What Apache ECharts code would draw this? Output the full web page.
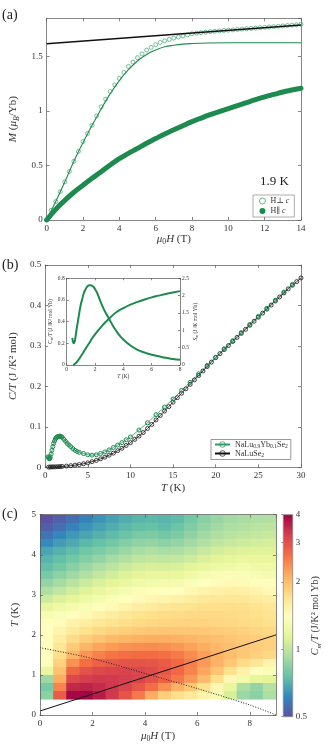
<!DOCTYPE html>
<html>
<head>
<meta charset="utf-8">
<script src="https://cdn.jsdelivr.net/npm/echarts@6/dist/echarts.min.js"></script>
<style>
html,body{margin:0;padding:0;background:#fff;}
#main{width:332px;height:744px;}
</style>
</head>
<body>
<div id="main"></div>
<script>
// ---------- (a) magnetisation at 1.9 K : [field (T), M (muB/Yb)] ----------
var perpPoints=[[0,0],[0.25,0.09],[0.5,0.17],[0.75,0.26],[1,0.35],[1.25,0.445],[1.5,0.54],[1.75,0.63],
    [2,0.72],[2.25,0.795],[2.5,0.87],[2.75,0.955],[3,1.04],[3.25,1.11],[3.5,1.18],[3.75,1.24],
    [4,1.30],[4.25,1.355],[4.5,1.41],[4.75,1.45],[5,1.49],[5.25,1.525],[5.5,1.56],[5.75,1.585],
    [6,1.61],[6.25,1.63],[6.5,1.645],[6.75,1.658],[7,1.67],[7.25,1.68],[7.5,1.69],[7.75,1.70],
    [8,1.71],[8.25,1.716],[8.5,1.72],[8.75,1.725],[9,1.73],[9.25,1.733],[9.5,1.736],[9.75,1.74],
    [10,1.743],[10.25,1.746],[10.5,1.75],[10.75,1.753],[11,1.756],[11.25,1.759],[11.5,1.762],[11.75,1.765],
    [12,1.769],[12.25,1.772],[12.5,1.775],[12.75,1.779],[13,1.782],[13.25,1.786],[13.5,1.789],[13.75,1.793],[14,1.797]];
var parPoints=[[0,0],[0.5,0.098],[1,0.18],[1.5,0.255],[2,0.32],[2.5,0.383],[3,0.443],[3.5,0.505],[4,0.563],
    [4.5,0.612],[5,0.658],[5.5,0.705],[6,0.748],[6.5,0.79],[7,0.828],[7.5,0.866],[8,0.903],[8.5,0.936],
    [9,0.967],[9.5,0.995],[10,1.022],[10.5,1.05],[11,1.078],[11.5,1.105],[12,1.13],[12.5,1.153],
    [13,1.175],[13.5,1.193],[14,1.21]];
var fitPoints=[[0,0],[0.5,0.17],[1,0.35],[1.5,0.54],[2,0.71],[2.5,0.87],[3,1.02],[3.5,1.16],[4,1.28],
    [4.5,1.38],[5,1.46],[5.5,1.52],[6,1.56],[6.5,1.59],[7,1.605],[7.5,1.615],[8,1.62],[9,1.625],
    [10,1.627],[14,1.628]];
var vanVleckLine=[[0,1.619],[14,1.79]];

// ---------- (b) specific heat : [T (K), C/T] ----------
var ybPoints=[[0.35,0.026],[0.4,0.024],[0.45,0.022],[0.5,0.021],[0.55,0.022],[0.6,0.025],[0.7,0.033],
    [0.8,0.042],[0.9,0.051],[1.0,0.059],[1.1,0.065],[1.2,0.07],[1.3,0.073],[1.4,0.075],[1.5,0.076],
    [1.6,0.0765],[1.7,0.077],[1.8,0.0765],[1.9,0.0755],[2.0,0.074],[2.2,0.069],[2.4,0.064],[2.6,0.059],
    [2.8,0.055],[3.0,0.051],[3.25,0.046],[3.5,0.042],[3.75,0.039],[4,0.037],[4.5,0.034],[5,0.031],
    [5.5,0.030],[6,0.031],[6.5,0.034],[7,0.038],[7.5,0.043],[8,0.049],[8.5,0.055],[9,0.061],[9.5,0.068],
    [10,0.075],[11,0.092],[12,0.11],[13,0.13],[14,0.149],[15,0.169],[16,0.19],[17,0.21],[18,0.231],
    [19,0.252],[20,0.272],[21,0.293],[22,0.313],[23,0.333],[24,0.353],[25,0.373],[26,0.393],[27,0.413],
    [28,0.433],[29,0.452]];
var luPoints=[[0.4,0.0005],[0.6,0.0007],[0.8,0.0009],[1,0.001],[1.25,0.0012],[1.5,0.0015],[1.75,0.0018],
    [2,0.0022],[2.5,0.003],[3,0.004],[3.5,0.0053],[4,0.0068],[4.5,0.0088],[5,0.011],[5.5,0.014],
    [6,0.017],[6.5,0.021],[7,0.025],[7.5,0.03],[8,0.035],[8.5,0.041],[9,0.047],[9.5,0.054],[10,0.061],
    [10.5,0.069],[11,0.077],[11.5,0.086],[12,0.096],[12.5,0.106],[13,0.117],[13.5,0.128],[14,0.139],
    [14.5,0.15],[15,0.161],[15.5,0.172],[16,0.183],[16.5,0.194],[17,0.205],[17.5,0.216],[18,0.227],
    [18.5,0.238],[19,0.249],[19.5,0.26],[20,0.271],[20.5,0.281],[21,0.291],[21.5,0.301],[22,0.311],
    [22.5,0.321],[23,0.331],[23.5,0.341],[24,0.351],[24.5,0.361],[25,0.371],[25.5,0.381],[26,0.391],
    [26.5,0.401],[27,0.411],[27.5,0.421],[28,0.431],[28.5,0.441],[29,0.45],[29.5,0.459],[30,0.468]];
// inset: magnetic part
var cmPoints=[[0.4,0.25],[0.45,0.21],[0.5,0.2],[0.55,0.21],[0.6,0.24],[0.7,0.33],[0.8,0.41],[0.9,0.49],
    [1.0,0.56],[1.1,0.61],[1.2,0.66],[1.3,0.69],[1.4,0.715],[1.5,0.73],[1.6,0.735],[1.7,0.735],[1.8,0.73],
    [1.9,0.72],[2.0,0.70],[2.2,0.65],[2.4,0.58],[2.6,0.52],[2.8,0.47],[3.0,0.425],[3.25,0.365],[3.5,0.315],
    [3.75,0.27],[4,0.235],[4.5,0.18],[5,0.14],[5.5,0.115],[6,0.095],[6.5,0.08],[7,0.066],[7.5,0.056],[8,0.048]];
var smPoints=[[0.45,0],[0.5,0.01],[0.6,0.04],[0.7,0.08],[0.8,0.13],[0.9,0.19],[1.0,0.25],[1.2,0.38],
    [1.4,0.51],[1.6,0.64],[1.8,0.77],[2.0,0.88],[2.25,1.01],[2.5,1.13],[2.75,1.24],[3.0,1.34],[3.5,1.52],
    [4,1.64],[4.5,1.74],[5,1.82],[5.5,1.89],[6,1.95],[6.5,2.0],[7,2.05],[7.5,2.09],[8,2.13]];

// ---------- (c) Cm/T map (J/K^2 mol Yb) ----------
var mapField=[0.25,0.75,1.25,1.75,2.25,2.75,3.25,3.75,4.25,4.75,5.25,5.75,6.25,6.75,7.25,7.75,8.25,8.75];
var mapTemp=[4.9,4.7,4.5,4.3,4.1,3.9,3.7,3.5,3.3,3.1,2.9,2.7,2.5,2.3,2.1,1.9,1.7,1.5,1.3,1.1,0.9,0.7,0.5];
var mapRows=[
    [0.50,0.53,0.56,0.60,0.64,0.67,0.70,0.72,0.73,0.72,0.74,0.79,0.84,0.88,0.91,0.93,0.95,0.96],
    [0.53,0.56,0.60,0.64,0.67,0.70,0.73,0.75,0.76,0.74,0.77,0.82,0.87,0.91,0.94,0.96,0.98,0.99],
    [0.57,0.61,0.65,0.68,0.71,0.74,0.77,0.80,0.81,0.79,0.81,0.86,0.91,0.95,0.98,1.00,1.02,1.03],
    [0.62,0.66,0.69,0.73,0.76,0.79,0.83,0.86,0.87,0.85,0.87,0.91,0.96,1.00,1.03,1.05,1.07,1.08],
    [0.68,0.71,0.74,0.78,0.81,0.85,0.89,0.93,0.95,0.93,0.94,0.98,1.03,1.07,1.10,1.12,1.13,1.13],
    [0.72,0.75,0.79,0.83,0.87,0.92,0.96,1.00,1.02,1.01,1.02,1.05,1.10,1.14,1.17,1.19,1.19,1.18],
    [0.75,0.79,0.84,0.89,0.94,0.99,1.04,1.08,1.10,1.09,1.10,1.14,1.19,1.23,1.26,1.27,1.26,1.24],
    [0.80,0.85,0.90,0.96,1.02,1.07,1.12,1.16,1.18,1.18,1.19,1.24,1.30,1.34,1.36,1.36,1.34,1.31],
    [0.87,0.92,0.98,1.04,1.10,1.15,1.20,1.25,1.27,1.27,1.29,1.35,1.41,1.45,1.47,1.46,1.43,1.39],
    [0.95,1.01,1.07,1.13,1.19,1.25,1.30,1.35,1.38,1.39,1.42,1.48,1.53,1.56,1.57,1.56,1.52,1.48],
    [1.05,1.11,1.17,1.23,1.29,1.35,1.41,1.46,1.50,1.52,1.55,1.60,1.64,1.66,1.66,1.65,1.61,1.57],
    [1.18,1.24,1.29,1.34,1.39,1.47,1.53,1.58,1.62,1.65,1.68,1.71,1.74,1.75,1.75,1.73,1.70,1.66],
    [1.32,1.36,1.40,1.47,1.54,1.60,1.66,1.71,1.74,1.76,1.78,1.79,1.79,1.79,1.78,1.76,1.73,1.70],
    [1.40,1.45,1.53,1.60,1.66,1.71,1.75,1.78,1.80,1.82,1.83,1.83,1.83,1.82,1.80,1.78,1.76,1.73],
    [1.40,1.52,1.63,1.72,1.79,1.84,1.88,1.91,1.93,1.94,1.94,1.93,1.92,1.90,1.88,1.85,1.82,1.79],
    [1.42,1.58,1.76,1.88,1.97,2.04,2.09,2.12,2.14,2.14,2.12,2.08,2.03,1.99,1.95,1.91,1.88,1.85],
    [1.42,1.66,1.90,2.07,2.20,2.28,2.34,2.37,2.38,2.36,2.31,2.23,2.14,2.06,1.99,1.93,1.89,1.85],
    [1.42,1.74,2.08,2.32,2.48,2.58,2.63,2.66,2.66,2.62,2.53,2.40,2.25,2.12,2.01,1.92,1.85,1.79],
    [1.38,1.85,2.35,2.64,2.80,2.88,2.93,2.95,2.92,2.84,2.70,2.50,2.29,2.10,1.93,1.78,1.67,1.52],
    [1.20,1.98,2.72,2.98,3.10,3.16,3.18,3.14,3.05,2.90,2.70,2.46,2.20,1.96,1.73,1.55,1.42,1.36],
    [0.90,2.15,3.10,3.25,3.30,3.30,3.25,3.15,2.97,2.78,2.55,2.30,2.02,1.75,1.48,1.27,1.17,1.14],
    [0.80,2.45,3.50,3.55,3.45,3.32,3.15,2.92,2.65,2.36,2.12,1.93,1.73,1.48,1.19,0.94,0.87,0.97],
    [0.85,2.85,3.90,3.92,3.65,3.30,2.95,2.55,2.15,1.88,1.74,1.64,1.54,1.34,1.09,0.89,0.85,0.94]
];
var boundaryPoints=[[0,1.68],[2,1.41],[4.25,0.99],[6,0.66],[8,0.25],[9,0]];
var crossoverLine=[[0,0.1],[9,2.0]];
var colorbarTicks=[0.5,1,2,3,4];

var GREEN='#1d8a4e';
var GREEN_LIGHT='#2f9a66';
var AXIS_COLOR='#555';
var TEXT_COLOR='#333';
var SERIF='"Liberation Serif","DejaVu Serif",serif';
var SPECTRAL=['#5e4fa2','#3288bd','#66c2a5','#abdda4','#e6f598','#ffffbf','#fee08b','#fdae61','#f46d43','#d53e4f','#9e0142'];

function richStyles(size){
    var lh=Math.round(size*1.25);
    return {
        n:{fontFamily:SERIF,fontSize:size,color:TEXT_COLOR,lineHeight:lh},
        i:{fontFamily:SERIF,fontSize:size,fontStyle:'italic',color:TEXT_COLOR,lineHeight:lh},
        s:{fontFamily:SERIF,fontSize:size*0.7,color:TEXT_COLOR,lineHeight:size*0.8,verticalAlign:'bottom'},
        si:{fontFamily:SERIF,fontSize:size*0.7,fontStyle:'italic',color:TEXT_COLOR,lineHeight:size*0.8,verticalAlign:'bottom'}
    };
}

function boxAxis(gridIndex,position,min,max,interval,opts){
    opts=opts||{};
    var size=opts.fontSize||9;
    var axis={
        type:'value',gridIndex:gridIndex,position:position,min:min,max:max,interval:interval,
        z:opts.z||0,
        axisLine:{show:true,onZero:false,lineStyle:{color:AXIS_COLOR,width:0.7}},
        axisTick:{show:true,inside:true,length:opts.tickLength||3,lineStyle:{color:AXIS_COLOR,width:0.7}},
        axisLabel:{show:!!opts.labels,color:TEXT_COLOR,fontFamily:SERIF,fontSize:size,
            margin:opts.margin||4,showMaxLabel:opts.showMax!==false},
        splitLine:{show:false}
    };
    if(opts.name){
        axis.name=opts.name;
        axis.nameLocation='middle';
        axis.nameGap=opts.nameGap;
        axis.nameRotate=opts.nameRotate;
        axis.nameTextStyle={fontFamily:SERIF,fontSize:opts.nameSize||11,color:TEXT_COLOR,rich:richStyles(opts.nameSize||11)};
    }
    return axis;
}

function renderCell(params,api){
    var halfField=(mapField[1]-mapField[0])/2;
    var halfTemp=(mapTemp[0]-mapTemp[1])/2;
    var h=api.value(0),t=api.value(1);
    var p0=api.coord([h-halfField,t+halfTemp]);
    var p1=api.coord([h+halfField,t-halfTemp]);
    return {
        type:'rect',
        shape:{x:p0[0],y:p0[1],width:p1[0]-p0[0]+0.6,height:p1[1]-p0[1]+0.6},
        style:{fill:api.visual('color')}
    };
}

function renderColorbar(params,api){
    var p0=api.coord([0,api.value(2)]);
    var p1=api.coord([1,api.value(1)]);
    var stops=[];
    for(var i=0;i<SPECTRAL.length;i++){
        stops.push({offset:i/(SPECTRAL.length-1),color:SPECTRAL[i]});
    }
    return {
        type:'rect',
        shape:{x:p0[0],y:p0[1],width:p1[0]-p0[0],height:p1[1]-p0[1]},
        style:{fill:new echarts.graphic.LinearGradient(0,1,0,0,stops),stroke:'#888',lineWidth:0.8}
    };
}

var mapData=[];
for(var r=0;r<mapTemp.length;r++){
    for(var c=0;c<mapField.length;c++){
        var v=mapRows[r][c];
        mapData.push([mapField[c],mapTemp[r],v,Math.log2(v)]);
    }
}

var legendNames={
    'H⊥ c':'{n|H⊥ }{i|c}',
    'H∥ c':'{n|H∥ }{i|c}',
    'NaLu0.9Yb0.1Se2':'{n|NaLu}{s|0.9}{n|Yb}{s|0.1}{n|Se}{s|2}',
    'NaLuSe2':'{n|NaLuSe}{s|2}'
};
function legendLabel(name){ return legendNames[name]||name; }

var myChart=echarts.init(document.getElementById('main'),null,{renderer:'canvas'});
var option={
    animation:false,
    backgroundColor:'#fff',
    grid:[
        {left:42.7,top:18.3,width:258.3,height:201.7},
        {left:42.7,top:265,width:258.3,height:202.3},
        {left:66.7,top:278.3,width:113.3,height:86.7,show:true,backgroundColor:'#fff',borderWidth:0},
        {left:40,top:514.7,width:236,height:202},
        {left:283.3,top:514.7,width:9.4,height:202}
    ],
    xAxis:[
        boxAxis(0,'bottom',0,14,2,{labels:true,name:'{i|μ}{s|0}{i|H}{n| (T)}',nameGap:12}),
        boxAxis(0,'top',0,14,2,{}),
        boxAxis(1,'bottom',0,30,5,{labels:true,name:'{i|T}{n| (K)}',nameGap:14}),
        boxAxis(1,'top',0,30,5,{}),
        boxAxis(2,'bottom',0,8,2,{labels:true,fontSize:5.5,margin:2,tickLength:2,name:'{i|T}{n| (K)}',nameGap:7,nameSize:5.5}),
        boxAxis(2,'top',0,8,2,{tickLength:2}),
        boxAxis(3,'bottom',0,9,2,{labels:true,showMax:false,z:5,name:'{i|μ}{s|0}{i|H}{n| (T)}',nameGap:14}),
        boxAxis(3,'top',0,9,2,{z:5}),
        {type:'value',gridIndex:4,min:0,max:1,show:false}
    ],
    yAxis:[
        boxAxis(0,'left',0,1.852,0.5,{labels:true,showMax:false,name:'{i|M}{n| (}{i|μ}{si|B}{n|/Yb)}',nameGap:22}),
        boxAxis(0,'right',0,1.852,0.5,{}),
        boxAxis(1,'left',0,0.5,0.1,{labels:true,name:'{i|C/T}{n| (J /K² mol)}',nameGap:21}),
        boxAxis(1,'right',0,0.5,0.1,{}),
        boxAxis(2,'left',0,0.8,0.2,{labels:true,fontSize:5.5,margin:2,tickLength:2,name:'{i|C}{si|m}{i|/T}{n| (J /K² mol Yb)}',nameGap:8,nameSize:5.5}),
        boxAxis(2,'right',0,2.5,0.5,{labels:true,fontSize:5.5,margin:2,tickLength:2,name:'{i|S}{si|m}{n| (J /K mol Yb)}',nameGap:9,nameSize:5.5,nameRotate:90}),
        boxAxis(3,'left',0,5,1,{labels:true,z:5,name:'{i|T}{n| (K)}',nameGap:9}),
        boxAxis(3,'right',0,5,1,{z:5}),
        {
            type:'value',gridIndex:4,position:'right',min:-1,max:2,
            axisLine:{show:false},splitLine:{show:false},
            axisTick:{show:true,inside:true,length:2,lineStyle:{color:'#666',width:0.7},
                customValues:colorbarTicks.map(function(t){return Math.log2(t);})},
            axisLabel:{show:true,color:TEXT_COLOR,fontFamily:SERIF,fontSize:9,margin:3,
                customValues:colorbarTicks.map(function(t){return Math.log2(t);}),
                formatter:function(v){return String(Math.round(Math.pow(2,v)*10)/10);}},
            name:'{i|C}{si|m}{i|/T}{n| (J/K² mol Yb)}',nameLocation:'middle',nameGap:14,nameRotate:90,
            nameTextStyle:{fontFamily:SERIF,fontSize:10,color:TEXT_COLOR,rich:richStyles(10)}
        }
    ],
    visualMap:{
        type:'continuous',show:false,seriesIndex:10,dimension:3,min:-1,max:2,
        inRange:{color:SPECTRAL}
    },
    legend:[
        {
            left:253,top:195,orient:'vertical',selectedMode:false,
            data:[
                {name:'H⊥ c',icon:'circle',itemStyle:{color:'rgba(255,255,255,0)',borderColor:GREEN_LIGHT,borderWidth:0.9}},
                {name:'H∥ c',icon:'circle',itemStyle:{color:GREEN}}
            ],
            itemWidth:6,itemHeight:6,itemGap:2,padding:[2,5,2,6],
            borderColor:'#777',borderWidth:0.6,
            formatter:legendLabel,
            textStyle:{fontFamily:SERIF,fontSize:8,color:TEXT_COLOR,rich:richStyles(8)}
        },
        {
            left:211,top:439.5,orient:'vertical',selectedMode:false,
            data:[
                {name:'NaLu0.9Yb0.1Se2',itemStyle:{color:'rgba(255,255,255,0)',borderColor:GREEN,borderWidth:0.7}},
                {name:'NaLuSe2',itemStyle:{color:'rgba(255,255,255,0)',borderColor:'#111',borderWidth:0.7}}
            ],
            itemWidth:15,itemHeight:7,itemGap:0,padding:[1,3,1,3],
            borderColor:'#555',borderWidth:0.6,
            formatter:legendLabel,
            textStyle:{fontFamily:SERIF,fontSize:8,color:TEXT_COLOR,rich:richStyles(8)}
        }
    ],
    graphic:[
        {type:'text',left:2,top:8,style:{text:'(a)',font:'14px '+SERIF,fill:'#222'}},
        {type:'text',left:2,top:258,style:{text:'(b)',font:'14px '+SERIF,fill:'#222'}},
        {type:'text',left:2,top:507,style:{text:'(c)',font:'14px '+SERIF,fill:'#222'}},
        {type:'text',left:260,top:175,style:{text:'1.9 K',font:'13px '+SERIF,fill:'#222'}}
    ],
    series:[
        // (a)
        {name:'guide',type:'line',xAxisIndex:0,yAxisIndex:0,data:vanVleckLine,showSymbol:false,
            lineStyle:{color:'#111',width:1.5},silent:true},
        {name:'fit',type:'line',xAxisIndex:0,yAxisIndex:0,data:fitPoints,smooth:true,showSymbol:false,
            lineStyle:{color:GREEN,width:1.1},silent:true},
        {name:'H∥ c',type:'line',xAxisIndex:0,yAxisIndex:0,data:parPoints,smooth:true,showSymbol:false,
            symbol:'circle',itemStyle:{color:GREEN},lineStyle:{color:GREEN,width:5,cap:'round'}},
        {name:'H⊥ c',type:'scatter',xAxisIndex:0,yAxisIndex:0,data:perpPoints,symbol:'circle',symbolSize:4,
            itemStyle:{color:'rgba(255,255,255,0)',borderColor:GREEN_LIGHT,borderWidth:0.8}},
        // (b)
        {name:'NaLuSe2',type:'line',xAxisIndex:2,yAxisIndex:2,data:luPoints,symbol:'circle',symbolSize:4,
            showSymbol:true,itemStyle:{color:'rgba(255,255,255,0)',borderColor:'#111',borderWidth:0.8},
            lineStyle:{color:'#111',width:0.8}},
        {name:'NaLu0.9Yb0.1Se2',type:'line',xAxisIndex:2,yAxisIndex:2,data:ybPoints,symbol:'circle',symbolSize:4,
            showSymbol:true,itemStyle:{color:'rgba(255,255,255,0)',borderColor:GREEN,borderWidth:1},
            lineStyle:{color:GREEN_LIGHT,width:0.8}},
        // inset
        {name:'cm',type:'line',xAxisIndex:4,yAxisIndex:4,data:cmPoints,smooth:true,showSymbol:false,
            lineStyle:{color:GREEN,width:2},silent:true},
        {name:'sm',type:'line',xAxisIndex:4,yAxisIndex:5,data:smPoints,smooth:true,showSymbol:false,
            lineStyle:{color:GREEN,width:2},silent:true},
        // filler so indices stay readable
        {name:'spacer1',type:'line',xAxisIndex:4,yAxisIndex:4,data:[],silent:true},
        {name:'spacer2',type:'line',xAxisIndex:4,yAxisIndex:4,data:[],silent:true},
        // (c) map, index 10
        {name:'map',type:'custom',xAxisIndex:6,yAxisIndex:6,renderItem:renderCell,
            dimensions:['field','temp','value','log2value'],encode:{x:0,y:1},data:mapData,silent:true},
        {name:'boundary',type:'line',xAxisIndex:6,yAxisIndex:6,data:boundaryPoints,smooth:0.3,showSymbol:false,
            lineStyle:{color:'#222',width:1,type:[1,1.6]},silent:true},
        {name:'crossover',type:'line',xAxisIndex:6,yAxisIndex:6,data:crossoverLine,showSymbol:false,
            lineStyle:{color:'#111',width:1},silent:true},
        {name:'colorbar',type:'custom',xAxisIndex:8,yAxisIndex:8,renderItem:renderColorbar,
            encode:{x:0,y:[1,2]},
            data:[[0.5,Math.log2(colorbarTicks[0]),Math.log2(colorbarTicks[colorbarTicks.length-1])]],silent:true}
    ]
};
myChart.setOption(option);
</script>
</body>
</html>
